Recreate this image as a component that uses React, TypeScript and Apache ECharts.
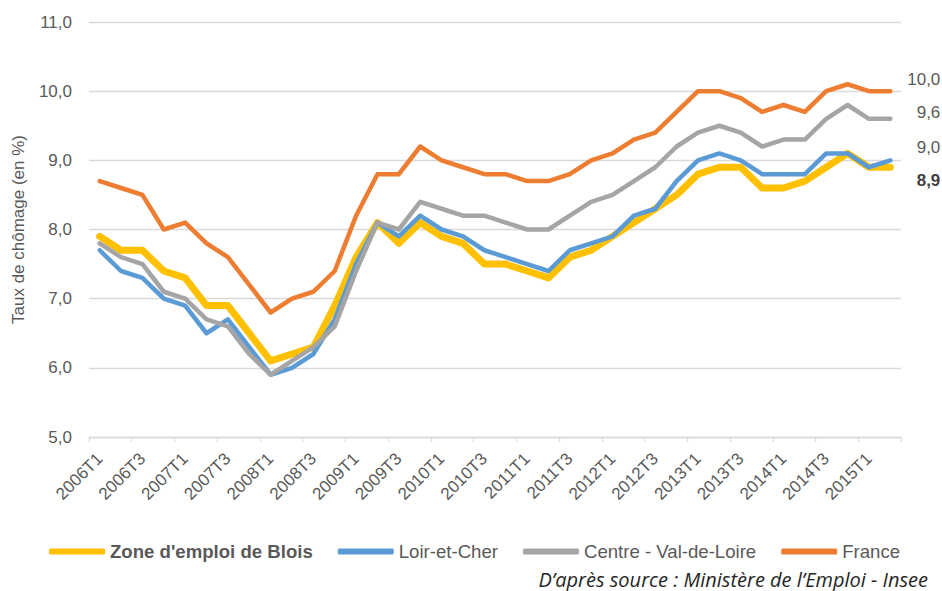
import React, { useEffect, useRef } from "react";
import * as echarts from "echarts";

const categories = [
  "2006T1", "2006T2", "2006T3", "2006T4",
  "2007T1", "2007T2", "2007T3", "2007T4",
  "2008T1", "2008T2", "2008T3", "2008T4",
  "2009T1", "2009T2", "2009T3", "2009T4",
  "2010T1", "2010T2", "2010T3", "2010T4",
  "2011T1", "2011T2", "2011T3", "2011T4",
  "2012T1", "2012T2", "2012T3", "2012T4",
  "2013T1", "2013T2", "2013T3", "2013T4",
  "2014T1", "2014T2", "2014T3", "2014T4",
  "2015T1", "2015T2",
];

const blois = [7.9, 7.7, 7.7, 7.4, 7.3, 6.9, 6.9, 6.5, 6.1, 6.2, 6.3, 6.9, 7.6, 8.1, 7.8, 8.1, 7.9, 7.8, 7.5, 7.5, 7.4, 7.3, 7.6, 7.7, 7.9, 8.1, 8.3, 8.5, 8.8, 8.9, 8.9, 8.6, 8.6, 8.7, 8.9, 9.1, 8.9, 8.9];
const loirEtCher = [7.7, 7.4, 7.3, 7.0, 6.9, 6.5, 6.7, 6.3, 5.9, 6.0, 6.2, 6.7, 7.5, 8.1, 7.9, 8.2, 8.0, 7.9, 7.7, 7.6, 7.5, 7.4, 7.7, 7.8, 7.9, 8.2, 8.3, 8.7, 9.0, 9.1, 9.0, 8.8, 8.8, 8.8, 9.1, 9.1, 8.9, 9.0];
const centreVdl = [7.8, 7.6, 7.5, 7.1, 7.0, 6.7, 6.6, 6.2, 5.9, 6.1, 6.3, 6.6, 7.4, 8.1, 8.0, 8.4, 8.3, 8.2, 8.2, 8.1, 8.0, 8.0, 8.2, 8.4, 8.5, 8.7, 8.9, 9.2, 9.4, 9.5, 9.4, 9.2, 9.3, 9.3, 9.6, 9.8, 9.6, 9.6];
const france = [8.7, 8.6, 8.5, 8.0, 8.1, 7.8, 7.6, 7.2, 6.8, 7.0, 7.1, 7.4, 8.2, 8.8, 8.8, 9.2, 9.0, 8.9, 8.8, 8.8, 8.7, 8.7, 8.8, 9.0, 9.1, 9.3, 9.4, 9.7, 10.0, 10.0, 9.9, 9.7, 9.8, 9.7, 10.0, 10.1, 10.0, 10.0];

const seriesNames = ["Zone d'emploi de Blois", "Loir-et-Cher", "Centre - Val-de-Loire", "France"];
const seriesColors = ["#FFC000", "#5B9BD5", "#A5A5A5", "#ED7D31"];
const yTicks = [5, 6, 7, 8, 9, 10, 11];
const sourceText = "D\u2019après source : Ministère de l\u2019Emploi - Insee";

const fmt = (v: number) => v.toFixed(1).replace(".", ",");

export default function App() {
  const ref = useRef<HTMLDivElement>(null);
  useEffect(() => {
    if (!ref.current) return;
    const chart = echarts.init(ref.current, null, { renderer: "svg" });
    const dataSets = [blois, loirEtCher, centreVdl, france];
    const widths = [7, 4.5, 4.5, 4.5];
    const labelDy = [13, -13, -6, -12];
    const series = dataSets.map((d, i) => ({
      name: seriesNames[i],
      type: "line",
      data: d,
      symbol: "none",
      showSymbol: false,
      color: seriesColors[i],
      lineStyle: { width: widths[i], color: seriesColors[i], cap: "round", join: "round" },
      endLabel: {
        show: true,
        formatter: (p: any) => fmt(p.value),
        align: "right",
        distance: 0,
        offset: [50, labelDy[i]],
        fontFamily: "'Liberation Sans', Arial, sans-serif",
        fontSize: 17,
        fontWeight: i === 0 ? "bold" : "normal",
        color: i === 0 ? "#404040" : "#595959",
      },
      emphasis: { disabled: true },
    }));

    chart.setOption({
      animation: false,
      grid: { left: 89, right: 41, top: 22, bottom: 154 },
      legend: {
        data: seriesNames.map((n, i) => ({
          name: n,
          textStyle: { fontWeight: i === 0 ? "bold" : "normal" },
        })),
        left: 44,
        top: 537,
        icon: "roundRect",
        itemWidth: 56,
        itemHeight: 6,
        itemGap: 25,
        selectedMode: false,
        textStyle: {
          fontFamily: "'Liberation Sans', Arial, sans-serif",
          fontSize: 18.6,
          color: "#595959",
        },
      },
      xAxis: {
        type: "category",
        data: categories,
        boundaryGap: true,
        axisLine: { lineStyle: { color: "#D9D9D9", width: 1.3 } },
        axisTick: { show: true, interval: 1, length: 5, lineStyle: { color: "#D9D9D9", width: 1.3 } },
        axisLabel: {
          interval: 1,
          rotate: 45,
          margin: 19,
          fontFamily: "'Liberation Sans', Arial, sans-serif",
          fontSize: 17,
          color: "#595959",
        },
        splitLine: { show: false },
      },
      yAxis: {
        type: "value",
        min: 5,
        max: 11,
        interval: 1,
        name: "Taux de chômage (en %)",
        nameLocation: "middle",
        nameRotate: 90,
        nameGap: 62,
        nameTextStyle: {
          fontFamily: "'Liberation Sans', Arial, sans-serif",
          fontSize: 17,
          color: "#595959",
        },
        axisLine: { show: false },
        axisTick: { show: false },
        axisLabel: {
          margin: 17,
          fontFamily: "'Liberation Sans', Arial, sans-serif",
          fontSize: 17,
          color: "#595959",
          formatter: (v: number) => (yTicks.includes(v) ? fmt(v) : ""),
        },
        splitLine: { lineStyle: { color: "#D9D9D9", width: 1.3 } },
      },
      graphic: [
        {
          type: "text",
          x: 928,
          y: 579,
          style: {
            text: sourceText,
            x: 0,
            y: 0,
            align: "right",
            verticalAlign: "middle",
            fontFamily: "'Open Sans', sans-serif",
            fontStyle: "italic",
            fontSize: 20,
            fill: "#262626",
          },
          silent: true,
        },
      ],
      series,
    });
    return () => chart.dispose();
  }, []);
  return <div ref={ref} style={{ width: 942, height: 591, position: "absolute", left: 0, top: 0, background: "#fff" }} />;
}
